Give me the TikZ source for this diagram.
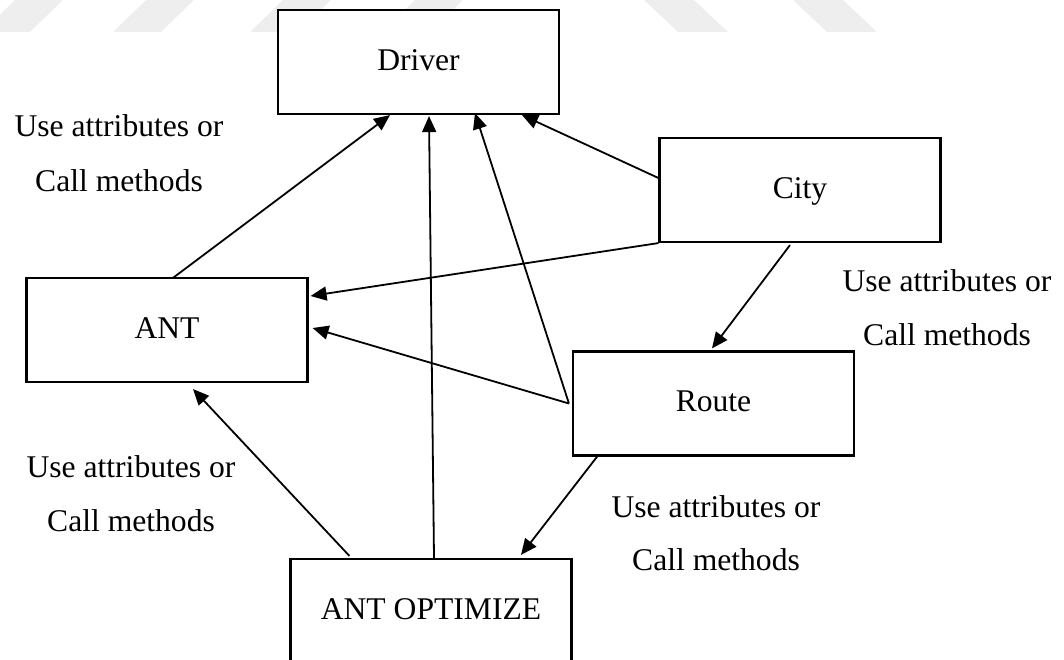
\documentclass[tikz,border=0pt]{standalone}
\usepackage{fontspec}
\setmainfont{Liberation Serif}
\usetikzlibrary{arrows.meta,calc}
\definecolor{stripe}{RGB}{238,238,238}
\tikzset{
  box/.style={draw, fill=white, line width=1.6pt, minimum width=210.75pt,
    minimum height=78pt, inner sep=0pt, text height=12pt, text depth=0pt,
    font=\fontsize{23.7}{28}\selectfont},
  lbl/.style={anchor=base, inner sep=0pt, font=\fontsize{23.7}{28}\selectfont},
  link/.style={line width=1.35pt, -{Triangle[length=12pt,width=10.5pt]}},
  band/.style={fill=stripe, draw=none}
}
\begin{document}
\begin{tikzpicture}[x=0.75pt, y={(0pt,-0.75pt)}]
\useasboundingbox (0,0) rectangle (1064,660);
\clip (0,0) rectangle (1064,660);
% slanted bands along the top edge
\foreach \a in {-18,113,250,382}
  \fill[band] (\a,32) -- (\a+48,32) -- (\a+81,0) -- (\a+33,0) -- cycle;
\foreach \b in {644,793}
  \fill[band] (\b,0) -- (\b+50,0) -- (\b+84,32) -- (\b+34,32) -- cycle;

% classes
\node[box] (driver) at (418.5,62) {Driver};
\node[box] (city) at (800,190) {City};
\node[box] (ant) at (167,330) {ANT};
\node[box] (route) at (713.5,403.5) {Route};
\node[box] (opt) at (431,611) {ANT OPTIMIZE};

% dependencies
\draw[link] ($(ant.north)+(6,1)$) -- ($(driver.south)+(-28.5,0)$);
\draw[link] ($(opt.north)+(3,0)$) -- ($(driver.south)+(10.5,1)$);
\draw[link] ($(route.west)+(-3,0)$) -- ($(driver.south)+(56.5,-2)$);
\draw[link] ($(city.west)+(0,-12)$) -- ($(driver.south)+(103.5,0)$);
\draw[link] (city.south west) -- ($(ant.east)+(2,-34)$);
\draw[link] ($(route.west)+(-3,0)$) -- ($(ant.east)+(4,-2)$);
\draw[link] ($(city.south)+(-10,2)$) -- ($(route.north)+(-1.5,-2)$);
\draw[link] ($(route.south west)+(26,-1)$) -- ($(opt.north)+(90,-3)$);
\draw[link] ($(opt.north west)+(60,-2)$) -- ($(ant.south)+(26,6)$);

% annotations
\node[lbl] (l1a) at (119,137) {Use attributes or};
\node[lbl] (l1b) at (119,191) {Call methods};
\node[lbl] (l2a) at (947,291) {Use attributes or};
\node[lbl] (l2b) at (947,345) {Call methods};
\node[lbl] (l3a) at (131,477) {Use attributes or};
\node[lbl] (l3b) at (131,531) {Call methods};
\node[lbl] (l4a) at (716,517) {Use attributes or};
\node[lbl] (l4b) at (716,570) {Call methods};
\end{tikzpicture}
\end{document}
